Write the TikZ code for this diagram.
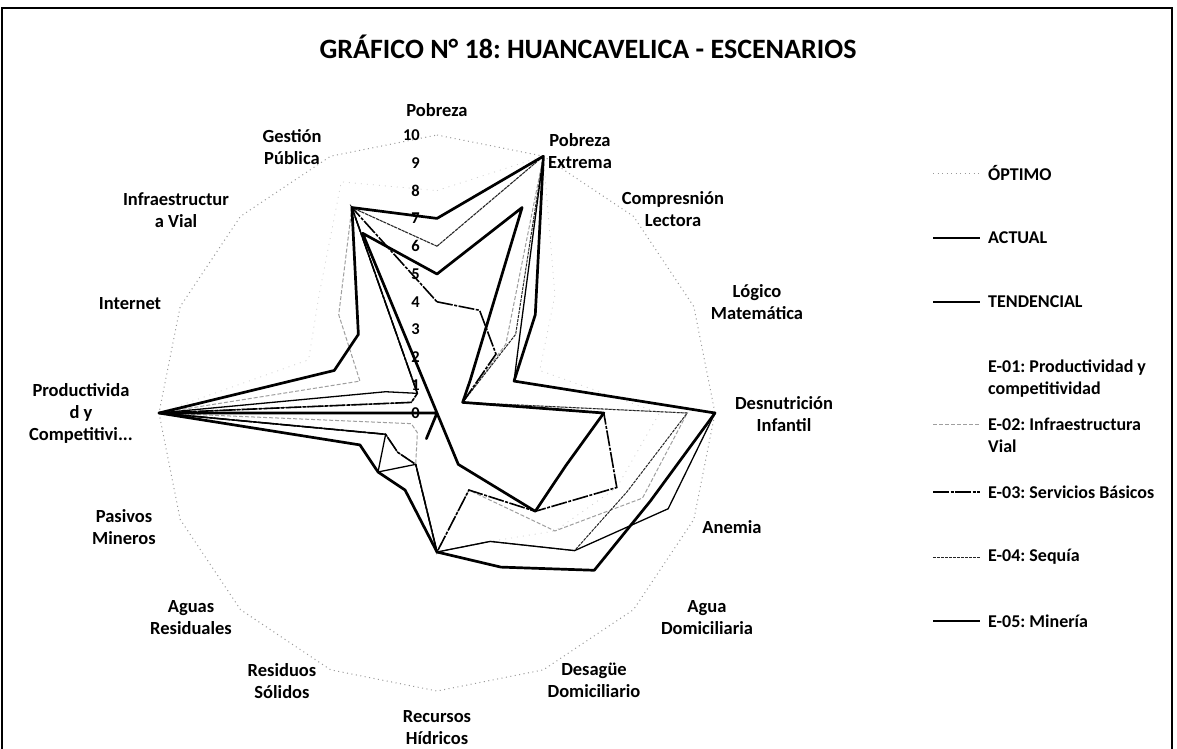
\documentclass[tikz,border=0pt]{standalone}
\usepackage{fontspec}
\setmainfont{Carlito}
\frenchspacing
\newcommand\radarseries[3]{%
  \foreach \v [count=\i from 0] in {#3} {\coordinate (#1-\i) at ({90-22.5*\i}:{27.8*\v});}
  \draw[#2] (#1-0) \foreach \j in {1,...,15} {-- (#1-\j)} -- cycle;}
\begin{document}
\begin{tikzpicture}[x=1pt,y=1pt,
  lab/.style={font=\bfseries\fontsize{18.5}{22}\selectfont, align=center, inner sep=0pt},
  num/.style={font=\bfseries\fontsize{16.5}{18}\selectfont, inner sep=0pt, anchor=east},
  leg/.style={font=\bfseries\fontsize{18}{22}\selectfont, align=left, inner sep=0pt, anchor=west},
  optimo/.style={gray!80, line width=1pt, dash pattern=on 1pt off 3.5pt},
  actual/.style={black, line width=2.7pt, line join=round},
  tend/.style={black, line width=1.3pt, line join=round},
  eprod/.style={gray!35, line width=0.8pt, dash pattern=on 1pt off 5pt},
  einfra/.style={gray!75, line width=1pt, dash pattern=on 4pt off 2pt},
  eserv/.style={black, line width=1.6pt, dash pattern=on 16pt off 1.5pt on 3pt off 1.5pt},
  esequia/.style={black!85, line width=1pt, dash pattern=on 3pt off 1pt},
  emin/.style={black, line width=2.7pt, line join=round}]
\useasboundingbox (0,0) rectangle (1177,-748);
\fill[white] (0,0) rectangle (1177,-748);
\draw[line width=1.5pt] (2,-8) rectangle (1172,-775);
\node[font=\bfseries\fontsize{28}{32}\selectfont] (title) at (588,-47) {GRÁFICO N° 18: HUANCAVELICA - ESCENARIOS};
\begin{scope}[shift={(437,-413)}]
  \radarseries{opt}{optimo}{10,10,10,10,10,10,10,10,10,10,10,10,10,10,10,10}
  \radarseries{e1}{eprod}{8,10,6,4,8,7,6,5,5,3,3,3,10,5,6,9}
  \radarseries{e2}{einfra}{6,10,3.5,1,9,8,6,3,5,2,1,1,10,3,5,8}
  \radarseries{e4}{esequia}{6,10,4,1,9,7.4,7,5,5,2,2,2,10,1,1,8}
  \radarseries{e3}{eserv}{4,4,3,1,6,7,5,3,5,2,2,2,10,1,1,8}
  \radarseries{te}{tend}{7,10,4.25,3,10,9,7,5,5,2,3,2,10,2,1,8}
  \radarseries{ac}{actual}{7,10,5,3,10,8.3,8,6,5,3,3,3,10,4,4,8}
  \radarseries{e5}{emin}{5,8,1.7,1,6,5,5,2,0,1,0,0,10,0,0,7}
  \foreach \k in {0,...,10} \node[num] (n\k) at (-17, 27.8*\k) {\k};
\end{scope}
% axis labels
\node[lab] (l0) at (437,-110) {Pobreza};
\node[lab] (l1) at (580,-151) {Pobreza\\Extrema};
\node[lab] (l2) at (673,-209) {Compresnión\\Lectora};
\node[lab] (l3) at (757,-302) {Lógico\\Matemática};
\node[lab] (l4) at (784,-414) {Desnutrición\\Infantil};
\node[lab] (l5) at (732,-527) {Anemia};
\node[lab] (l6) at (707,-618) {Agua\\Domiciliaria};
\node[lab] (l7) at (594,-680) {Desagüe\\Domiciliario};
\node[lab] (l8) at (437,-728) {Recursos\\Hídricos};
\node[lab] (l9) at (282,-681) {Residuos\\Sólidos};
\node[lab] (l10) at (191,-618) {Aguas\\Residuales};
\node[lab] (l11) at (124,-527) {Pasivos\\Mineros};
\node[lab] (l12) at (81,-413) {Productivida\\d y\\Competitivi...};
\node[lab] (l13) at (130,-304) {Internet};
\node[lab] (l14) at (176,-210) {Infraestructur\\a Vial};
\node[lab] (l15) at (292,-147) {Gestión\\Pública};
% legend
\draw[optimo] (933,-173) -- (980,-173);
\node[leg] (k0) at (988,-173) {ÓPTIMO};
\draw[actual] (933,-238) -- (980,-238);
\node[leg] (k1) at (988,-238) {ACTUAL};
\draw[tend] (933,-302) -- (980,-302);
\node[leg] (k2) at (988,-302) {TENDENCIAL};
\node[leg] (k3) at (988,-379) {E-01: Productividad y\\competitividad};
\draw[einfra] (933,-424) -- (980,-424);
\node[leg] (k4) at (988,-435) {E-02: Infraestructura\\Vial};
\draw[eserv] (933,-492) -- (980,-492);
\node[leg] (k5) at (988,-492) {E-03: Servicios Básicos};
\draw[esequia] (933,-557) -- (980,-557);
\node[leg] (k6) at (988,-557) {E-04: Sequía};
\draw[emin] (933,-621) -- (980,-621);
\node[leg] (k7) at (988,-621) {E-05: Minería};
\end{tikzpicture}
\end{document}
